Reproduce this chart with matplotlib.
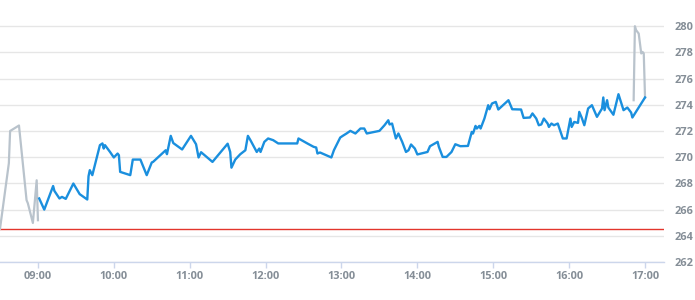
import numpy as np
import pandas as pd
import matplotlib
matplotlib.use("Agg")
import matplotlib.pyplot as plt
import matplotlib.dates as mdates

# pre-market (gray)
pre_times = ["08:30", "08:37", "08:38", "08:45", "08:51", "08:52", "08:56", "08:59", "09:00"]
pre_prices = [264.53, 269.54, 272.00, 272.42, 266.72, 266.49, 264.98, 268.24, 265.19]

# regular session (blue)
day_times = ["09:01", "09:05", "09:12", "09:13", "09:17", "09:19", "09:22", "09:28", "09:33", "09:39",
             "09:40", "09:41", "09:43", "09:49", "09:51", "09:52", "09:53", "09:57", "10:00", "10:03",
             "10:04", "10:05", "10:13", "10:15", "10:21", "10:26", "10:30", "10:31", "10:41", "10:42",
             "10:45", "10:47", "10:54", "11:01", "11:05", "11:07", "11:09", "11:18", "11:30", "11:32",
             "11:33", "11:36", "11:40", "11:44", "11:46", "11:48", "11:53", "11:55", "11:56", "11:59",
             "12:02", "12:06", "12:10", "12:25", "12:26", "12:33", "12:38", "12:40", "12:41", "12:43",
             "12:52", "12:54", "12:59", "13:01", "13:04", "13:07", "13:11", "13:15", "13:18", "13:20",
             "13:30", "13:34", "13:37", "13:38", "13:40", "13:41", "13:43", "13:45", "13:48", "13:51",
             "13:53", "13:55", "13:58", "14:00", "14:08", "14:10", "14:16", "14:17", "14:20", "14:23",
             "14:27", "14:30", "14:34", "14:40", "14:43", "14:44", "14:46", "14:47", "14:49", "14:50",
             "14:52", "14:53", "14:56", "14:57", "14:59", "15:02", "15:04", "15:12", "15:15", "15:22",
             "15:24", "15:29", "15:31", "15:34", "15:36", "15:38", "15:40", "15:43", "15:44", "15:46",
             "15:48", "15:51", "15:55", "15:58", "16:01", "16:02", "16:04", "16:07", "16:08", "16:10",
             "16:12", "16:15", "16:18", "16:22", "16:26", "16:27", "16:28", "16:30", "16:31", "16:35",
             "16:39", "16:43", "16:46", "16:49", "16:50", "17:00"]
day_prices = [266.85, 266.00, 267.80, 267.43, 266.85, 266.97, 266.82, 267.99, 267.18, 266.77,
              268.55, 269.01, 268.63, 270.92, 271.05, 270.66, 270.92, 270.40, 269.98, 270.28,
              270.15, 268.88, 268.63, 269.82, 269.82, 268.63, 269.60, 269.64, 270.53, 270.23,
              271.63, 271.08, 270.59, 271.63, 270.99, 269.98, 270.38, 269.64, 271.03, 270.40,
              269.20, 269.82, 270.23, 270.53, 271.63, 271.30, 270.40, 270.66, 270.40, 271.17,
              271.43, 271.30, 271.05, 271.05, 271.43, 271.05, 270.79, 270.74, 270.28, 270.36,
              269.98, 270.53, 271.50, 271.63, 271.81, 272.01, 271.81, 272.19, 272.19, 271.81,
              272.01, 272.44, 272.82, 272.50, 272.57, 272.19, 271.43, 271.81, 271.17, 270.40,
              270.53, 270.97, 270.66, 270.21, 270.40, 270.84, 271.17, 270.79, 270.02, 270.02,
              270.40, 270.99, 270.84, 270.86, 271.93, 271.81, 272.39, 272.19, 272.39, 272.19,
              272.69, 272.95, 273.97, 273.66, 274.10, 274.22, 273.64, 274.35, 273.66, 273.64,
              273.00, 273.03, 273.34, 272.95, 272.44, 272.50, 272.95, 272.57, 272.31, 272.57,
              272.44, 272.57, 271.43, 271.43, 272.95, 272.31, 272.69, 272.62, 273.46, 273.00,
              272.44, 273.72, 273.97, 273.08, 273.72, 274.56, 273.59, 274.35, 273.79, 273.24,
              274.81, 273.59, 273.79, 273.41, 273.03, 274.56]

# after-hours (gray)
post_times = ["16:51", "16:52", "16:53", "16:55", "16:57", "16:58", "16:59", "17:00"]
post_prices = [274.35, 280.00, 279.69, 279.44, 277.92, 278.04, 277.92, 274.56]

prev_close = 264.5
y_ticks = [262, 264, 266, 268, 270, 272, 274, 276, 278, 280]


def to_dt(times):
    return pd.to_datetime(["2024-01-02 " + t for t in times])


label_color = "#858e97"
font = {"family": ["Open Sans", "DejaVu Sans"], "size": 7.9, "weight": "bold"}

fig = plt.figure(figsize=(6.95, 3.0), dpi=100)
ax = fig.add_axes([0, 38 / 300, 664 / 695, 262 / 300])

ax.set_ylim(262, 282)
ax.set_xlim(pd.Timestamp("2024-01-02 08:30"), pd.Timestamp("2024-01-02 17:15"))

ax.set_yticks(y_ticks)
ax.grid(axis="y", color="#e6e6e6", linewidth=1.0)
ax.set_axisbelow(True)

ax.axhline(prev_close, color="#e3352c", linewidth=1.0, zorder=2)
ax.plot(to_dt(pre_times), pre_prices, color="#b9c3cc", linewidth=1.6, zorder=3)
ax.plot(to_dt(post_times), post_prices, color="#b9c3cc", linewidth=1.6, zorder=3)
ax.plot(to_dt(day_times), day_prices, color="#1a8fde", linewidth=1.7, zorder=4)

ax.xaxis.set_major_locator(mdates.HourLocator())
ax.xaxis.set_major_formatter(mdates.DateFormatter("%H:%M"))

for s in ["top", "left", "right"]:
    ax.spines[s].set_visible(False)
ax.spines["bottom"].set_color("#ccd6eb")
ax.spines["bottom"].set_linewidth(1.0)

ax.yaxis.tick_right()
ax.tick_params(axis="y", length=0, pad=7.3, labelcolor=label_color)
ax.tick_params(axis="x", length=4, width=1, color="#ccd6eb", pad=2.4, labelcolor=label_color)
for lab in ax.get_xticklabels() + ax.get_yticklabels():
    lab.set_fontfamily(font["family"])
    lab.set_fontsize(font["size"])
    lab.set_fontweight(font["weight"])

fig.savefig("out.png", dpi=100)
